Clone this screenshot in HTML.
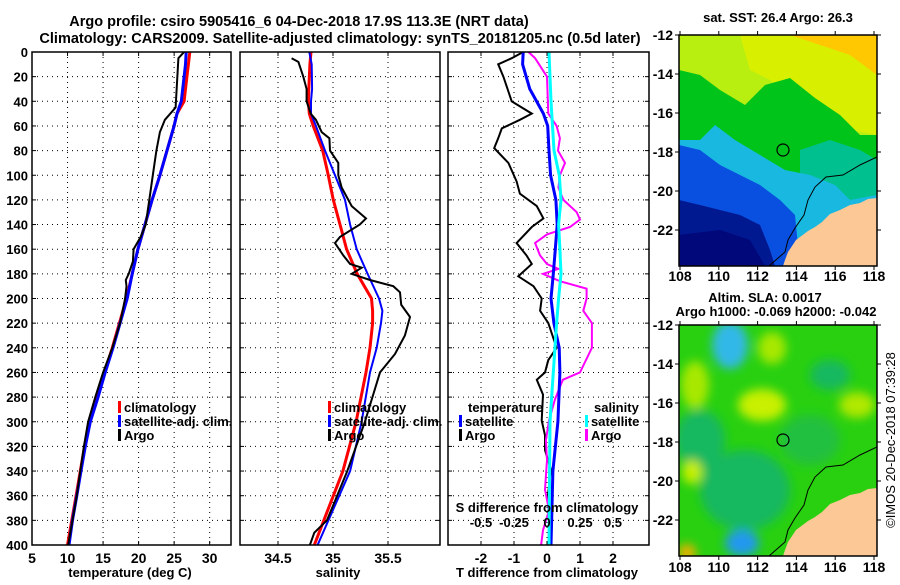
<!DOCTYPE html>
<html><head><meta charset="utf-8"><style>
body{margin:0;background:#fff}
svg text{font-family:"Liberation Sans",sans-serif;font-weight:bold;fill:#000}
</style></head><body>
<svg id="s" width="900" height="580" viewBox="0 0 900 580" xmlns="http://www.w3.org/2000/svg">
<defs>
<filter id="bl" x="-50%" y="-50%" width="200%" height="200%"><feGaussianBlur stdDeviation="5"/></filter>
<clipPath id="c1"><rect x="679" y="35" width="198" height="231"/></clipPath>
<clipPath id="c2"><rect x="679" y="325" width="198" height="231"/></clipPath>
<clipPath id="p1"><rect x="32" y="52" width="199" height="493"/></clipPath>
<clipPath id="p2"><rect x="240" y="52" width="200" height="493"/></clipPath>
<clipPath id="p3"><rect x="448" y="52" width="201" height="493"/></clipPath>
</defs>
<text x="299" y="26" font-size="14.5" text-anchor="middle">Argo profile: csiro 5905416_6 04-Dec-2018 17.9S 113.3E (NRT data)</text>
<text x="340" y="43" font-size="14.5" text-anchor="middle">Climatology: CARS2009. Satellite-adjusted climatology: synTS_20181205.nc (0.5d later)</text>
<g id="g1"></g>
<g id="g2"></g>
<g id="g3"></g>

<!-- SST map -->
<text x="778" y="22" font-size="13" text-anchor="middle">sat. SST: 26.4 Argo: 26.3</text>
<g clip-path="url(#c1)">
<rect x="679" y="35" width="198" height="231" fill="#b8ee10"/>
<polygon points="740,35 877,35 877,135 850,130 820,110 790,95 770,80 750,70" fill="#d8f000"/>
<polygon points="790,35 877,35 877,75 850,55 820,45" fill="#ffc800"/>
<polygon points="679,70 700,75 720,90 745,105 765,85 790,78 815,98 840,115 860,135 877,135 877,266 679,266" fill="#00c41a"/>
<polygon points="800,150 830,140 860,150 877,160 877,200 830,215 800,215" fill="#00c090"/>
<polygon points="679,140 700,140 715,125 735,140 760,155 785,170 810,175 835,185 850,200 877,195 877,266 679,266" fill="#18b8e0"/>
<polygon points="679,145 700,150 720,165 740,175 760,185 780,200 795,215 800,266 679,266" fill="#0a50e0"/>
<polygon points="679,200 700,205 720,210 740,215 760,225 770,250 775,266 679,266" fill="#001890"/>
<polygon points="679,235 720,230 750,240 765,266 679,266" fill="#00087a"/>
<polygon points="877,198 868,199 860,203 850,205 840,210 830,214 822,222 815,227 808,231 800,237 796,240 792,246 788,252 785,260 783,266 877,266" fill="#fcc896"/>
<polyline points="877,157 860,165 843,175 826,177 815,187 808,200 804,215 795,228 788,240 785,252 769,266" fill="none" stroke="#000" stroke-width="1"/>
<circle cx="783" cy="150" r="6" fill="none" stroke="#000" stroke-width="1.2"/>
</g>
<rect x="679" y="35" width="198" height="231" fill="none" stroke="#000" stroke-width="1.5"/>

<!-- SLA map -->
<text x="765" y="302" font-size="13" text-anchor="middle">Altim. SLA: 0.0017</text>
<text x="776" y="316" font-size="13" text-anchor="middle">Argo h1000: -0.069 h2000: -0.042</text>
<g clip-path="url(#c2)">
<rect x="679" y="325" width="198" height="231" fill="#28d010"/>
<g filter="url(#bl)">
<ellipse cx="745" cy="490" rx="45" ry="40" fill="#18b860"/>
<ellipse cx="700" cy="440" rx="25" ry="30" fill="#18b860"/>
<ellipse cx="810" cy="440" rx="30" ry="25" fill="#20c040"/>
<ellipse cx="830" cy="375" rx="20" ry="15" fill="#18b860"/>
<ellipse cx="695" cy="385" rx="14" ry="24" fill="#a8e800"/>
<ellipse cx="762" cy="405" rx="24" ry="16" fill="#c8f000"/>
<ellipse cx="772" cy="348" rx="14" ry="16" fill="#a8e800"/>
<ellipse cx="857" cy="405" rx="18" ry="13" fill="#b0e800"/>
<ellipse cx="692" cy="472" rx="10" ry="12" fill="#c8f000"/>
<ellipse cx="730" cy="345" rx="18" ry="24" fill="#30b8e8"/>
<ellipse cx="742" cy="543" rx="17" ry="13" fill="#2098f0"/>
<ellipse cx="687" cy="553" rx="9" ry="9" fill="#f0b000"/>
</g>
<polygon points="877,488 868,489 860,493 850,495 840,500 830,504 822,512 815,517 808,521 800,527 796,530 792,536 788,542 785,550 783,556 877,556" fill="#fcc896"/>
<polyline points="877,447 860,455 843,465 826,467 815,477 808,490 804,505 795,518 788,530 785,542 769,556" fill="none" stroke="#000" stroke-width="1"/>
<circle cx="783" cy="440" r="6" fill="none" stroke="#000" stroke-width="1.2"/>
</g>
<rect x="679" y="325" width="198" height="231" fill="none" stroke="#000" stroke-width="1.5"/>
<text transform="translate(895,440) rotate(-90)" font-size="13" text-anchor="middle" style="font-weight:normal">©IMOS 20-Dec-2018 07:39:28</text>
<g id="mapax"></g>
</svg>
<script>
// ---- data ----
const tDepth = [0,10,20,30,40,50,60,80,100,120,140,160,180,200,220,240,260,280,300,320,340,360,380,400];
const tClim  = [27.2,27.0,26.8,26.6,26.4,25.4,25.0,24.0,23.0,21.9,20.9,19.9,19.1,18.3,17.3,16.3,15.2,14.2,13.1,12.4,11.8,11.2,10.6,10.0];
const tSat   = [26.7,26.6,26.4,26.2,26.0,25.4,25.0,24.0,23.0,21.9,20.9,19.9,19.1,18.4,17.4,16.4,15.3,14.3,13.2,12.5,11.9,11.3,10.7,10.2];
const argoTDepth = [0,5,45,55,65,80,100,120,140,150,160,170,180,185,190,200,220,240,260,280,300,320,340,360,380,400];
const argoT = [26.4,25.6,25.2,23.7,23.0,22.5,22.0,21.5,21.0,20.3,19.3,19.2,18.6,18.2,18.3,18.1,17.4,16.3,15.0,13.9,12.9,12.3,11.8,11.3,10.7,10.1];

const sDepth = [0,10,30,40,50,60,80,100,120,140,160,180,200,210,220,240,260,300,340,400];
const sClim  = [34.80,34.79,34.78,34.776,34.785,34.82,34.906,34.957,35.003,35.064,35.124,35.22,35.35,35.36,35.36,35.336,35.30,35.21,35.09,34.83];
const sSat   = [34.785,34.806,34.81,34.80,34.80,34.845,34.927,35.018,35.109,35.155,35.215,35.315,35.418,35.449,35.436,35.397,35.336,35.26,35.155,34.86];
const argoSDepth = [5,8,20,30,40,50,55,65,70,80,90,100,110,125,135,140,150,155,165,172,175,180,185,190,195,205,215,230,245,260,300,340,380,390,400];
const argoS = [34.624,34.685,34.73,34.76,34.76,34.797,34.845,34.897,34.967,34.973,35.048,35.048,35.079,35.17,35.3,35.245,35.064,35.018,35.094,35.155,35.261,35.17,35.336,35.548,35.609,35.62,35.7,35.654,35.564,35.427,35.29,35.13,34.945,34.83,34.79];

const dTSatDepth = [0,10,30,50,60,80,100,120,140,160,180,200,220,240,260,300,340,400];
const dTSat = [-0.72,-0.74,-0.52,-0.11,0.02,0.06,0.11,0.27,0.31,0.25,0.19,0.12,0.21,0.37,0.39,0.33,0.18,0.12];
const dSSatDepth = [0,40,80,100,120,140,160,180,200,220,260,300,400];
const dSSat = [0.015,0.03,0.053,0.093,0.106,0.088,0.098,0.106,0.088,0.073,0.048,0.023,0.015];
const dSArgoDepth = [0,5,20,50,60,70,80,90,100,110,120,130,136,142,148,155,165,172,176,180,186,192,200,210,220,240,260,266,282,299,315,331,355,372,388,400];
const dSArgo = [-0.14,-0.09,0.0,0.01,0.073,0.098,0.083,0.136,0.098,0.086,0.124,0.225,0.25,0.174,0.0,-0.09,-0.053,0.0,0.086,-0.03,0.098,0.3,0.3,0.275,0.34,0.34,0.25,0.12,0.06,0.015,-0.008,0.0,-0.015,0.015,-0.03,-0.045];
const dTArgoDepth = [0,5,10,20,40,50,55,62,70,78,90,105,115,125,135,142,155,165,172,182,190,200,210,220,240,250,260,266,278,299,311,323,339,359,380,400];
const dTArgo = [-0.72,-1.07,-1.48,-1.32,-1.07,-0.46,-0.82,-1.37,-1.48,-1.6,-1.17,-0.92,-0.82,-0.31,-0.11,-0.46,-0.92,-0.62,-0.46,-0.87,-0.41,-0.16,-0.21,0.04,0.29,0.04,-0.06,-0.31,-0.12,-0.16,-0.06,-0.06,0.12,0.03,0.06,0.06];

const depthTicks = [0,20,40,60,80,100,120,140,160,180,200,220,240,260,280,300,320,340,360,380,400];
const tTicks = [5,10,15,20,25,30];
const sTicks = [34.5,35,35.5];
const dTTicks = [-2,-1,0,1,2];
const dSTicks = [-0.5,-0.25,0,0.25,0.5];
const dSLabels = ['-0.5','-0.25','0','0.25','0.5'];
const lonTicks = [108,110,112,114,116,118];
const latTicks = [-12,-14,-16,-18,-20,-22];

// ---- scales ----
const NS='http://www.w3.org/2000/svg';
const yD = d => 52 + d*(493/400);
const xT = t => 32 + (t-5)*(199/28);
const xS = s => 278 + (s-34.5)*110;
const xDT = v => 547 + v*33;
const xDS = v => 547 + v*132;
const xLon = l => 680 + (l-108)*19.4;
const yLat = l => 35 + (-12-l)*19.5;

function mk(tag, parent, attrs){const e=document.createElementNS(NS,tag);for(const k in attrs)e.setAttribute(k,attrs[k]);parent.appendChild(e);return e;}
function line(parent, xs, ds, xf, color, w, clip, name){
  const pts = xs.map((v,i)=>xf(v).toFixed(1)+','+yD(ds[i]).toFixed(1)).join(' ');
  const p = mk('polyline', parent, {points:pts, fill:'none', stroke:color, 'stroke-width':w, 'clip-path':'url(#'+clip+')'});
  
  
}
function frame(g, x0, x1, gridXs, yLabels){
  depthTicks.forEach(d=>{
    if(d>0 && d<400){const l=mk('line',g,{x1:x0,x2:x1,y1:yD(d),y2:yD(d),stroke:'#000','stroke-width':1,'stroke-dasharray':'1,4'});
      
      
      mk('line',g,{x1:x0,x2:x0+4,y1:yD(d),y2:yD(d),stroke:'#000'});
      mk('line',g,{x1:x1-4,x2:x1,y1:yD(d),y2:yD(d),stroke:'#000'});}
    if(yLabels){const t=mk('text',g,{x:28,y:yD(d)+5,'font-size':13,'text-anchor':'end'});t.textContent=d;
      
      }
  });
  gridXs.forEach(x=>{ if(x>x0+1 && x<x1-1){
    const l=mk('line',g,{x1:x,x2:x,y1:52,y2:545,stroke:'#000','stroke-width':1,'stroke-dasharray':'1,4'});
    
    
    mk('line',g,{x1:x,x2:x,y1:545,y2:541,stroke:'#000'});
    mk('line',g,{x1:x,x2:x,y1:52,y2:56,stroke:'#000'});}});
}
function border(g,x0,x1){const r=mk('rect',g,{x:x0,y:52,width:x1-x0,height:493,fill:'none',stroke:'#000','stroke-width':1.5});
  
  }
function txt(g,x,y,s,anchor,name,size){const t=mk('text',g,{x:x,y:y,'font-size':size||13,'text-anchor':anchor||'start'});t.textContent=s;
  
  return t;}
function leg(g,x,y,color,label,name){const r=mk('rect',g,{x:x,y:y-6,width:3,height:12,fill:color});
  
  
  txt(g,x+6,y+5,label,'start',name);}

// Panel 1
const g1=document.getElementById('g1');
frame(g1,32,231,tTicks.map(xT),true);
line(g1,tClim,tDepth,xT,'#ff0000',3,'p1','temperature-climatology-line');
line(g1,tSat,tDepth,xT,'#0000ff',3,'p1','temperature-satellite-line');
line(g1,argoT,argoTDepth,xT,'#000',2,'p1','temperature-argo-line');
border(g1,32,231);
tTicks.forEach(t=>txt(g1,xT(t),563,t,'middle','temperature-tick-label',14));
txt(g1,130,577,'temperature (deg C)','middle','temperature-axis-title');
leg(g1,118,407,'#ff0000','climatology','legend-climatology');
leg(g1,118,421,'#0000ff','satellite-adj. clim.','legend-satellite-adj');
leg(g1,118,435,'#000','Argo','legend-argo');

// Panel 2
const g2=document.getElementById('g2');
frame(g2,240,440,sTicks.map(xS),false);
line(g2,sClim,sDepth,xS,'#ff0000',3,'p2','salinity-climatology-line');
line(g2,sSat,sDepth,xS,'#0000ff',2,'p2','salinity-satellite-line');
line(g2,argoS,argoSDepth,xS,'#000',2,'p2','salinity-argo-line');
border(g2,240,440);
sTicks.forEach(t=>txt(g2,xS(t),563,String(t),'middle','salinity-tick-label',14));
txt(g2,338,577,'salinity','middle','salinity-axis-title');
leg(g2,328,407,'#ff0000','climatology','legend-climatology');
leg(g2,328,421,'#0000ff','satellite-adj. clim.','legend-satellite-adj');
leg(g2,328,435,'#000','Argo','legend-argo');

// Panel 3
const g3=document.getElementById('g3');
frame(g3,448,649,dTTicks.map(xDT),false);
line(g3,dTArgo,dTArgoDepth,xDT,'#000',2,'p3','t-diff-argo-line');
line(g3,dSArgo,dSArgoDepth,xDS,'#ff00ff',2,'p3','s-diff-argo-line');
line(g3,dTSat,dTSatDepth,xDT,'#0000ff',3,'p3','t-diff-satellite-line');
line(g3,dSSat,dSSatDepth,xDS,'#00ffff',3,'p3','s-diff-satellite-line');
border(g3,448,649);
dTTicks.forEach(t=>txt(g3,xDT(t),563,String(t),'middle','t-diff-tick-label',14));
dSTicks.forEach((t,i)=>txt(g3,xDS(t),527,dSLabels[i],'middle','s-diff-tick-label'));
txt(g3,547,512,'S difference from climatology','middle','s-diff-axis-title');
txt(g3,547,577,'T difference from climatology','middle','t-diff-axis-title');
txt(g3,468,412,'temperature','start','legend-temperature-heading');
leg(g3,459,421,'#0000ff','satellite','legend-t-satellite');
leg(g3,459,435,'#000','Argo','legend-t-argo');
txt(g3,594,412,'salinity','start','legend-salinity-heading');
leg(g3,585,421,'#00ffff','satellite','legend-s-satellite');
leg(g3,585,435,'#ff00ff','Argo','legend-s-argo');

// Map axes
const ma=document.getElementById('mapax');
[[35,266,281],[325,556,572]].forEach(([top,bot,ly])=>{
  lonTicks.forEach(l=>{const x=xLon(l);
    mk('line',ma,{x1:x,x2:x,y1:bot,y2:bot+4,stroke:'#000'});
    mk('line',ma,{x1:x,x2:x,y1:top,y2:top-4,stroke:'#000'});
    txt(ma,x,ly,l,'middle','lon-tick-label',14);});
  latTicks.forEach(l=>{const y=yLat(l)+(top-35);
    mk('line',ma,{x1:675,x2:679,y1:y,y2:y,stroke:'#000'});
    mk('line',ma,{x1:877,x2:881,y1:y,y2:y,stroke:'#000'});
    txt(ma,673,y+5,l,'end','lat-tick-label',14);});
});
</script>
</body></html>
